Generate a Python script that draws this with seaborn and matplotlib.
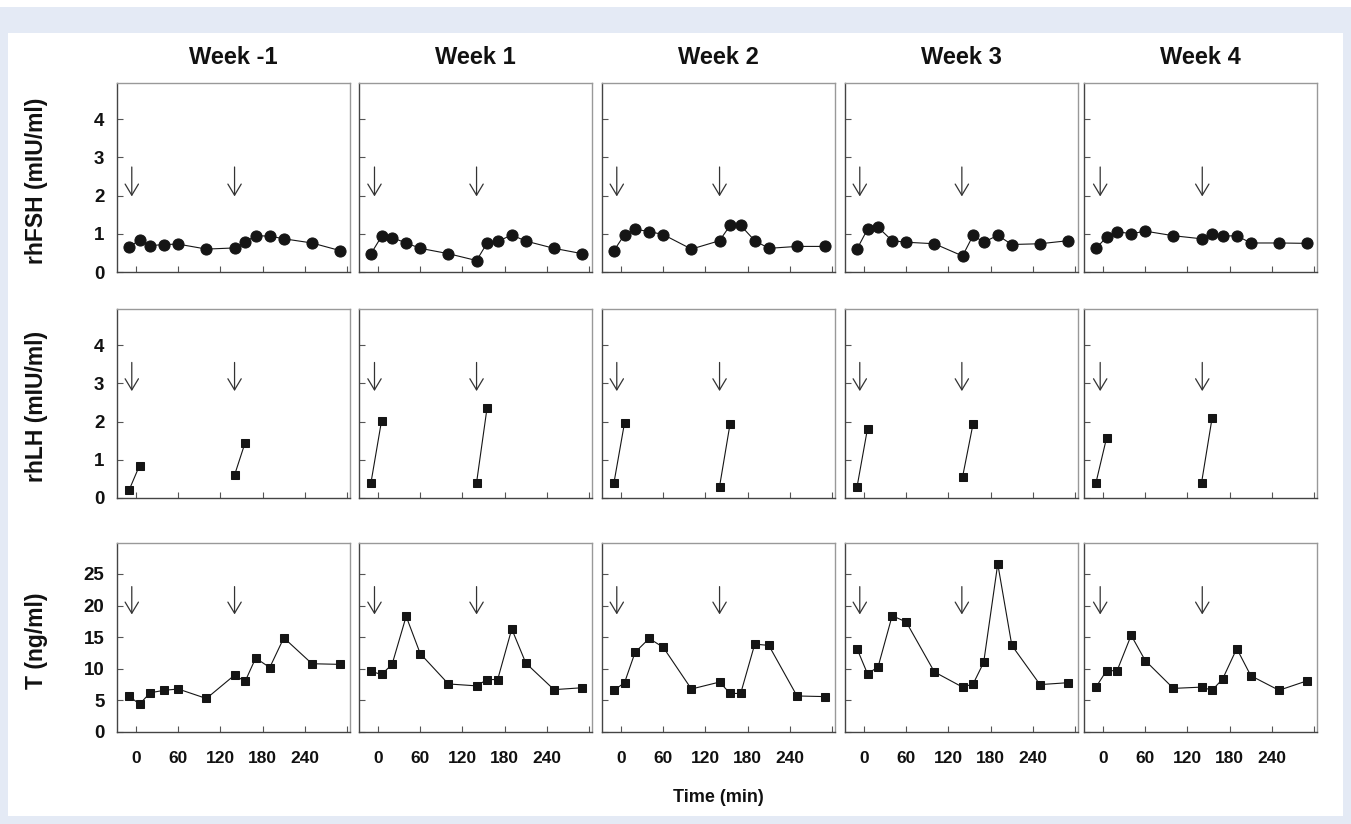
import numpy as np
import pandas as pd
import matplotlib
matplotlib.use("Agg")
import matplotlib.pyplot as plt
import seaborn as sns
from matplotlib.patches import Rectangle

# ---------------- data ----------------
weeks = ["Week -1", "Week 1", "Week 2", "Week 3", "Week 4"]
times = [-10, 5, 20, 40, 60, 100, 140, 155, 170, 190, 210, 250, 290]
lh_times = [-10, 5, 140, 155]
lh_segments = [0, 0, 1, 1]

fsh_wm1 = [0.65, 0.84, 0.69, 0.72, 0.73, 0.60, 0.63, 0.79, 0.95, 0.94, 0.87, 0.76, 0.56]
fsh_w1 = [0.48, 0.93, 0.90, 0.76, 0.62, 0.48, 0.30, 0.76, 0.80, 0.97, 0.81, 0.62, 0.48]
fsh_w2 = [0.56, 0.98, 1.12, 1.06, 0.98, 0.60, 0.82, 1.22, 1.22, 0.82, 0.62, 0.67, 0.67]
fsh_w3 = [0.60, 1.12, 1.17, 0.82, 0.78, 0.74, 0.42, 0.96, 0.78, 0.96, 0.72, 0.74, 0.82]
fsh_w4 = [0.62, 0.91, 1.06, 1.00, 1.07, 0.95, 0.87, 1.00, 0.94, 0.95, 0.76, 0.76, 0.75]

lh_wm1 = [0.20, 0.85, 0.60, 1.45]
lh_w1 = [0.40, 2.02, 0.40, 2.37]
lh_w2 = [0.40, 1.97, 0.30, 1.95]
lh_w3 = [0.28, 1.82, 0.55, 1.95]
lh_w4 = [0.40, 1.57, 0.40, 2.10]

t_wm1 = [5.7, 4.4, 6.2, 6.6, 6.8, 5.3, 9.0, 8.0, 11.7, 10.2, 14.9, 10.8, 10.7]
t_w1 = [9.6, 9.1, 10.7, 18.3, 12.4, 7.6, 7.3, 8.3, 8.3, 16.3, 10.9, 6.7, 7.0]
t_w2 = [6.6, 7.8, 12.6, 14.8, 13.4, 6.8, 7.9, 6.1, 6.1, 13.9, 13.7, 5.7, 5.6]
t_w3 = [13.2, 9.2, 10.3, 18.4, 17.4, 9.5, 7.1, 7.6, 11.0, 26.6, 13.7, 7.5, 7.8]
t_w4 = [7.1, 9.7, 9.7, 15.3, 11.3, 6.9, 7.1, 6.6, 8.4, 13.2, 8.9, 6.6, 8.1]

arrow_times = [[-6, 140], [-5, 140], [-6, 140], [-6, 139], [-4, 141]]

row_labels = ["rhFSH (mIU/ml)", "rhLH (mIU/ml)", "T (ng/ml)"]
x_ticks = [0, 60, 120, 180, 240, 300]
x_ticklabels = ["0", "60", "120", "180", "240", ""]
y_ticks_gonad = [0, 1, 2, 3, 4]
y_ticks_t = [0, 5, 10, 15, 20, 25]

# ---------------- long table ----------------
rows = []
for w, vals in zip(weeks, [fsh_wm1, fsh_w1, fsh_w2, fsh_w3, fsh_w4]):
    for t, v in zip(times, vals):
        rows.append(("FSH", w, t, v, 0))
for w, vals in zip(weeks, [lh_wm1, lh_w1, lh_w2, lh_w3, lh_w4]):
    for t, v, s in zip(lh_times, vals, lh_segments):
        rows.append(("LH", w, t, v, s))
for w, vals in zip(weeks, [t_wm1, t_w1, t_w2, t_w3, t_w4]):
    for t, v in zip(times, vals):
        rows.append(("T", w, t, v, 0))
df = pd.DataFrame(rows, columns=["hormone", "week", "time", "value", "segment"])

# ---------------- style ----------------
sns.set_style("ticks")
plt.rcParams["font.family"] = ["Liberation Sans", "DejaVu Sans"]
plt.rcParams["font.weight"] = "bold"
plt.rcParams["text.color"] = "#111111"
plt.rcParams["xtick.labelcolor"] = "#111111"
plt.rcParams["ytick.labelcolor"] = "#111111"
plt.rcParams["axes.labelcolor"] = "#111111"

W, H = 1351, 824
fig = plt.figure(figsize=(W / 100, H / 100), dpi=100)
fig.patch.set_facecolor("white")

# outer light-blue frame
fig.patches.append(Rectangle((0, 0), 1, (H - 7) / H, transform=fig.transFigure,
                             facecolor="#e4eaf5", edgecolor="none", zorder=-10))
fig.patches.append(Rectangle((8 / W, 1 - 816 / H), (1343 - 8) / W, (816 - 33) / H,
                             transform=fig.transFigure, facecolor="white",
                             edgecolor="none", zorder=-9))

col_left = [117, 359, 602, 845, 1084]
col_w = 233
row_top = [83, 309, 543]
row_h = 189

hormones = ["FSH", "LH", "T"]
markers = ["o", "s", "s"]
msizes = [8.0, 6.4, 6.4]
ylims = [(0, 4.95), (0, 4.95), (0, 29.9)]
arrow_y = [(2.75, 1.98), (3.55, 2.8), (23.0, 18.6)]

ink = "#151515"
for r, hm in enumerate(hormones):
    for c, w in enumerate(weeks):
        ax = fig.add_axes([col_left[c] / W, 1 - (row_top[r] + row_h) / H,
                           col_w / W, row_h / H])
        sub = df[(df.hormone == hm) & (df.week == w)]
        sns.lineplot(data=sub, x="time", y="value", units="segment",
                     estimator=None, ax=ax, color=ink, linewidth=0.8,
                     marker=markers[r], markersize=msizes[r],
                     markeredgecolor=ink, markerfacecolor=ink, sort=False)
        ax.set_xlim(-27, 304)
        ax.set_ylim(*ylims[r])
        ax.set_xlabel("")
        ax.set_ylabel("")
        ax.set_xticks(x_ticks)
        if r == 2:
            ax.set_xticklabels(x_ticklabels, fontsize=12.5, fontweight="bold")
        else:
            ax.set_xticklabels([])
        yt = y_ticks_t if r == 2 else y_ticks_gonad
        ax.set_yticks(yt)
        if c == 0:
            ax.set_yticklabels([str(v) for v in yt], fontsize=13.5, fontweight="bold")
            ax.set_ylabel(row_labels[r], fontsize=16.5, fontweight="bold")
            ax.yaxis.set_label_coords(-0.295, 0.485)
        else:
            ax.set_yticklabels([])
        ax.tick_params(axis="both", direction="in", length=4, width=0.8,
                       color="#555555")
        ax.tick_params(axis="y", pad=9)
        ax.tick_params(axis="x", pad=14)
        for side in ["left", "bottom"]:
            ax.spines[side].set_color("#444444")
            ax.spines[side].set_linewidth(1.0)
        for side in ["top", "right"]:
            ax.spines[side].set_color("#999999")
            ax.spines[side].set_linewidth(1.0)
        for at in arrow_times[c]:
            ax.annotate("", xy=(at, arrow_y[r][1]), xytext=(at, arrow_y[r][0]),
                        arrowprops=dict(arrowstyle="->,head_length=0.5,head_width=0.3",
                                        mutation_scale=16, lw=0.9, color="#333333",
                                        shrinkA=0, shrinkB=0))
        if r == 0:
            ax.set_title(w, fontsize=17, fontweight="bold", pad=14, color="#111111")
        if r == 2 and c == 2:
            ax.set_xlabel("Time (min)", fontsize=13, fontweight="bold", labelpad=16)

fig.savefig("out.png", dpi=100, facecolor=fig.get_facecolor())
